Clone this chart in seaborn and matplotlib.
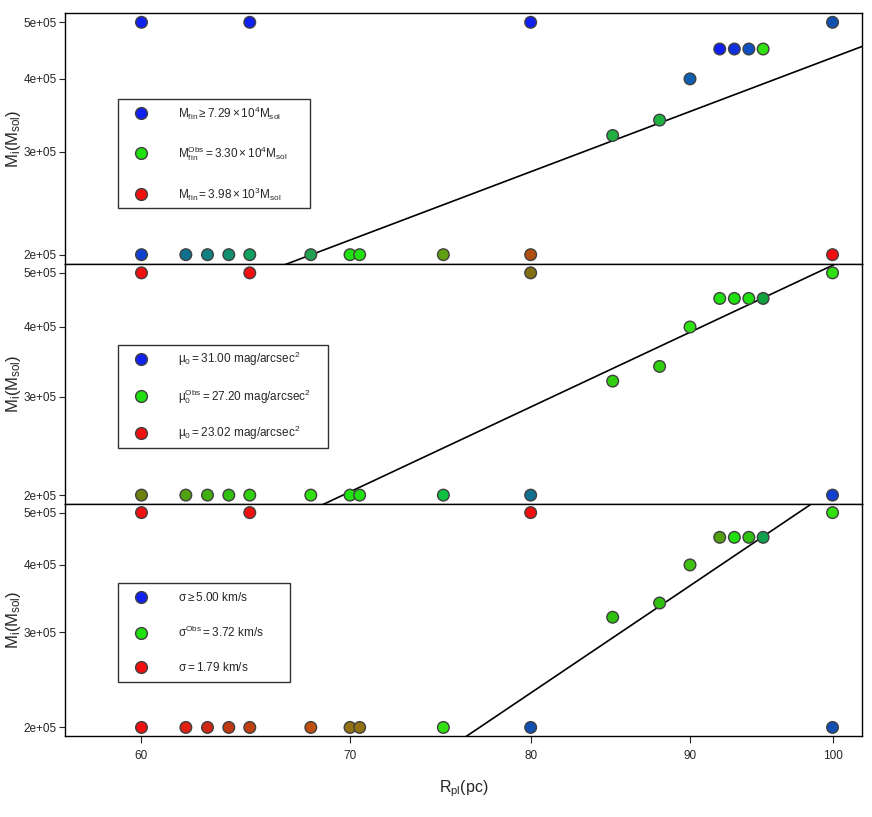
import numpy as np
import pandas as pd
import matplotlib
matplotlib.use('Agg')
import matplotlib.pyplot as plt
from matplotlib.lines import Line2D
import seaborn as sns

sns.set_style('ticks')
plt.rcParams['font.family'] = ['Liberation Sans', 'DejaVu Sans']
plt.rcParams['mathtext.fontset'] = 'custom'
plt.rcParams['mathtext.rm'] = 'Liberation Sans'
plt.rcParams['mathtext.it'] = 'Liberation Sans:italic'
plt.rcParams['mathtext.bf'] = 'Liberation Sans:bold'

# data: planetary radius (pc) and initial mass (Msol) of every run
r_pl = [60, 60, 62, 63, 64, 65, 65, 68, 70, 70.5, 75, 80, 80,
        85, 88, 90, 92, 93, 94, 95, 100, 100]
m_i = [2e5, 5e5, 2e5, 2e5, 2e5, 2e5, 5e5, 2e5, 2e5, 2e5, 2e5, 2e5, 5e5,
       3.2e5, 3.4e5, 4e5, 4.5e5, 4.5e5, 4.5e5, 4.5e5, 2e5, 5e5]

# point colours per panel (blend of blue / green / red)
col_mfin = ['#1040d0', '#1020f0', '#107090', '#108080', '#109070', '#10a060',
            '#1020f0', '#20a050', '#20e010', '#20e010', '#60a010', '#b05010',
            '#1020f0', '#20b040', '#20b040', '#1060b0', '#1020f0', '#1030e0',
            '#1050c0', '#30e010', '#f01010', '#1050b0']
col_mu0 = ['#708010', '#f01010', '#50a010', '#40b010', '#30c010', '#30d010',
           '#f01010', '#30e010', '#20e010', '#20e010', '#10c040', '#107090',
           '#807010', '#30d010', '#30d010', '#30e010', '#20e010', '#20e010',
           '#20e010', '#10a040', '#1040d0', '#30e010']
col_sigma = ['#f01010', '#f01010', '#e02010', '#d02810', '#c03810', '#c04010',
             '#f01010', '#c05010', '#907010', '#907010', '#30e010', '#1050b0',
             '#f01010', '#30c010', '#30c010', '#40c010', '#50a010', '#20e010',
             '#30c010', '#10a050', '#1050b0', '#30e010']

# fitted power laws: log10(M) = a + b*log10(R)
fit_a = [1.6045, 0.4765, -2.0306]
fit_b = [2.017, 2.618, 3.886]

leg_mfin = [r'$\mathrm{M_{fin}\geq 7.29\times10^{4}M_{sol}}$',
            r'$\mathrm{M_{fin}^{Obs}=3.30\times10^{4}M_{sol}}$',
            r'$\mathrm{M_{fin}=3.98\times10^{3}M_{sol}}$']
leg_mu0 = [r'$\mathrm{\mu_{0}=31.00\ mag/arcsec^{2}}$',
           r'$\mathrm{\mu_{0}^{Obs}=27.20\ mag/arcsec^{2}}$',
           r'$\mathrm{\mu_{0}=23.02\ mag/arcsec^{2}}$']
leg_sigma = [r'$\mathrm{\sigma\geq 5.00\ km/s}$',
             r'$\mathrm{\sigma^{Obs}=3.72\ km/s}$',
             r'$\mathrm{\sigma=1.79\ km/s}$']
leg_colors = ['#1020f0', '#20e010', '#f01010']

xticks = [60, 70, 80, 90, 100]
yticks = [2e5, 3e5, 4e5, 5e5]
ytick_labels = ['2e+05', '3e+05', '4e+05', '5e+05']

xlim = (56.7, 102.2)
ylim = (1.928e5, 5.187e5)

fig = plt.figure(figsize=(8.72, 8.17), dpi=100)
left, width = 0.0745, 0.914
panels = [(0.6769, 0.3072), (0.3831, 0.2938), (0.0991, 0.2840)]
colsets = [col_mfin, col_mu0, col_sigma]
legsets = [leg_mfin, leg_mu0, leg_sigma]
legtops = [0.657, 0.6625, 0.6595]
legwidths = [0.241, 0.2635, 0.216]
legspacing = [1.9, 1.56, 1.75]
legpad = [0.45, 0.45, 0.7]
leghandle = [3.0, 3.0, 2.5]
legtextpad = [1.64, 1.64, 1.89]

for i, (bottom, height) in enumerate(panels):
    ax = fig.add_axes([left, bottom, width, height])
    df = pd.DataFrame({'R': r_pl, 'M': m_i, 'col': colsets[i]})
    sns.scatterplot(data=df, x='R', y='M', hue='col',
                    palette={c: c for c in df['col'].unique()},
                    s=70, edgecolor='#404040', linewidth=1, legend=False,
                    ax=ax, zorder=3)
    ax.set_xscale('log')
    ax.set_yscale('log')
    xx = np.linspace(xlim[0], xlim[1], 200)
    ax.plot(xx, 10 ** (fit_a[i] + fit_b[i] * np.log10(xx)), color='black', lw=1.2, zorder=2)
    ax.set_xlim(*xlim)
    ax.set_ylim(*ylim)
    ax.minorticks_off()
    ax.set_yticks(yticks)
    ax.set_yticklabels(ytick_labels)
    ax.set_ylabel(r'$\mathrm{M_{i}(M_{sol})}$', fontsize=12, labelpad=0)
    ax.tick_params(axis='y', labelsize=8.5, length=4, width=0.8, pad=2)
    for sp in ax.spines.values():
        sp.set_visible(True)
        sp.set_color('black')
        sp.set_linewidth(1.0)
    if i < 2:
        ax.set_xticks([])
        ax.set_xlabel('')
    else:
        ax.set_xticks(xticks)
        ax.set_xticklabels([str(t) for t in xticks])
        ax.tick_params(axis='x', labelsize=8.5, length=5, width=0.8, pad=5)
        ax.set_xlabel(r'$\mathrm{R_{pl}(pc)}$', fontsize=11.5, labelpad=12)
    handles = [Line2D([], [], ls='none', marker='o', markersize=8.5,
                      markerfacecolor=c, markeredgecolor='#404040')
               for c in leg_colors]
    leg = ax.legend(handles, legsets[i], loc='upper left', mode='expand',
                    bbox_to_anchor=(0.0665, legtops[i] - 0.1, legwidths[i], 0.1),
                    fontsize=8.5, frameon=True, fancybox=False, edgecolor='black',
                    labelspacing=legspacing[i], handletextpad=legtextpad[i],
                    borderpad=legpad[i], borderaxespad=0, handlelength=leghandle[i])
    leg.get_frame().set_linewidth(1.0)

plt.savefig('out.png', dpi=100)
